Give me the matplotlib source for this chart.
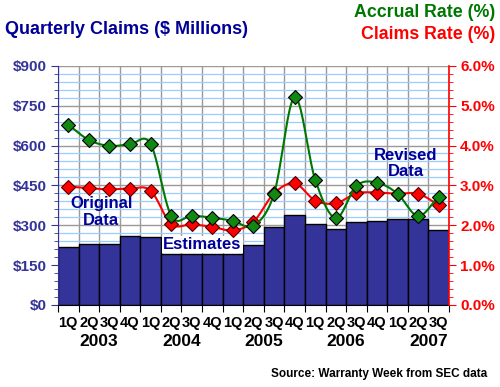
import numpy as np
import matplotlib.pyplot as plt
from matplotlib.transforms import blended_transform_factory

plt.rcParams['font.family'] = ['Liberation Sans', 'DejaVu Sans']
plt.rcParams['font.weight'] = 'bold'

quarters = ['1Q', '2Q', '3Q', '4Q', '1Q', '2Q', '3Q', '4Q', '1Q', '2Q',
            '3Q', '4Q', '1Q', '2Q', '3Q', '4Q', '1Q', '2Q', '3Q']
years = ['2003', '2004', '2005', '2006', '2007']
claims = [217, 228, 228, 259, 256, 192, 192, 192, 192, 226,
          295, 339, 305, 285, 311, 315, 323, 323, 282]
accrual_rate = [4.52, 4.14, 3.99, 4.03, 4.04, 2.24, 2.24, 2.19, 2.11, 1.99,
                2.79, 5.21, 3.14, 2.18, 2.99, 3.07, 2.79, 2.23, 2.72]
claims_rate = [2.97, 2.93, 2.90, 2.92, 2.87, 2.03, 2.02, 1.96, 1.87, 2.09,
               2.80, 3.05, 2.62, 2.55, 2.80, 2.82, 2.79, 2.79, 2.51]

NAVY = '#000099'
AXBLUE = '#333399'
GREEN = '#007700'
RED = '#ff0000'


def smooth(y, n=20):
    # catmull-rom curve through the points, just for drawing
    y = np.asarray(y, float)
    p = np.concatenate([[2 * y[0] - y[1]], y, [2 * y[-1] - y[-2]]])
    xs, ys = [], []
    for i in range(len(y) - 1):
        t = np.linspace(0, 1, n, endpoint=False)
        p0, p1, p2, p3 = p[i], p[i + 1], p[i + 2], p[i + 3]
        seg = 0.5 * ((2 * p1) + (-p0 + p2) * t + (2 * p0 - 5 * p1 + 4 * p2 - p3) * t ** 2
                     + (-p0 + 3 * p1 - 3 * p2 + p3) * t ** 3)
        xs.append(i + t)
        ys.append(seg)
    xs.append([len(y) - 1])
    ys.append([y[-1]])
    return np.concatenate(xs), np.concatenate(ys)


fig = plt.figure(figsize=(5.0, 3.87), dpi=100)
ax = fig.add_axes([0.116, 0.212, 0.782, 0.618])
x = np.arange(len(claims))

ax.bar(x, claims, width=1.0, color='#333399', edgecolor='black', linewidth=1, zorder=2)
ax.set_xlim(-0.5, len(claims) - 0.5)
ax.set_ylim(0, 900)
ax.set_yticks(np.arange(0, 901, 150))
ax.set_yticks(np.arange(0, 901, 30), minor=True)
ax.set_yticklabels(['$%d' % v for v in range(0, 901, 150)], color=AXBLUE, fontsize=11, fontweight='bold')
ax.grid(True, which='minor', axis='y', color='#99ccff', linewidth=0.9, zorder=0)
ax.grid(True, which='major', axis='y', color='#999999', linewidth=1, zorder=0)
ax.set_xticks(np.arange(-0.5, len(claims), 1))
ax.set_xticklabels([])
ax.grid(True, which='major', axis='x', color='#999999', linewidth=1, zorder=0)
ax.set_axisbelow(True)
ax.set_xticks(x, minor=True)
ax.set_xticklabels(quarters, minor=True, fontsize=10.5, fontweight='bold')
ax.tick_params(axis='x', which='major', length=5, color='black')
ax.tick_params(axis='x', which='minor', length=0, pad=8)
ax.tick_params(axis='y', which='major', length=5, color=AXBLUE, pad=3)
ax.tick_params(axis='y', which='minor', length=3, color=AXBLUE)
ax.spines['left'].set_color(AXBLUE)
ax.spines['top'].set_visible(False)
ax.spines['right'].set_visible(False)
ax.spines['bottom'].set_color('black')

ax2 = ax.twinx()
ax2.set_ylim(0, 6)
ax2.set_yticks(np.arange(0, 6.01, 1))
ax2.set_yticks(np.arange(0, 6.01, 0.2), minor=True)
ax2.set_yticklabels(['%.1f%%' % v for v in range(7)], color=RED, fontsize=11, fontweight='bold')
ax2.tick_params(axis='y', which='major', length=5, color=RED, pad=3)
ax2.tick_params(axis='y', which='minor', length=3, color=RED)
ax2.spines['right'].set_color(RED)
ax2.spines['right'].set_linewidth(1.2)
for s in ['left', 'top', 'bottom']:
    ax2.spines[s].set_visible(False)

sx, sy = smooth(claims_rate)
ax2.plot(sx, sy, color=RED, linewidth=1.5, zorder=3)
ax2.plot(x, claims_rate, linestyle='none', marker='D', markersize=7,
         markerfacecolor=RED, markeredgecolor='#550000', markeredgewidth=0.8, zorder=4)
sx, sy = smooth(accrual_rate)
ax2.plot(sx, sy, color=GREEN, linewidth=1.5, zorder=5)
ax2.plot(x, accrual_rate, linestyle='none', marker='D', markersize=7,
         markerfacecolor='#118811', markeredgecolor='black', markeredgewidth=0.8, zorder=6)

# year labels sit between 2Q and 3Q of each year
tr = blended_transform_factory(ax.transData, ax.transAxes)
for i, yr in enumerate(years):
    ax.text(4 * i + 1.5, -0.12, yr, transform=tr, ha='center', va='top',
            fontsize=12.5, fontweight='bold')

ax.text(1.6, 350, 'Original\nData', ha='center', va='center', color=NAVY,
        fontsize=12, fontweight='bold', linespacing=1.1, zorder=7)
ax.text(6.5, 228, 'Estimates', ha='center', va='center', color=NAVY,
        fontsize=12, fontweight='bold', zorder=7,
        bbox=dict(facecolor='white', edgecolor='none', pad=1.0))
ax.text(16.4, 533, 'Revised\nData', ha='center', va='center', color=NAVY,
        fontsize=12, fontweight='bold', linespacing=1.1, zorder=7)

fig.text(0.01, 0.925, 'Quarterly Claims ($ Millions)', color=NAVY, fontsize=13,
         fontweight='bold', va='center')
fig.text(0.99, 0.967, 'Accrual Rate (%)', color=GREEN, fontsize=12.8,
         fontweight='bold', ha='right', va='center')
fig.text(0.99, 0.91, 'Claims Rate (%)', color=RED, fontsize=12.8,
         fontweight='bold', ha='right', va='center')
fig.text(0.975, 0.033, 'Source: Warranty Week from SEC data', color='black',
         fontsize=8.5, fontweight='bold', ha='right', va='center')

fig.savefig('out.png', dpi=100)
